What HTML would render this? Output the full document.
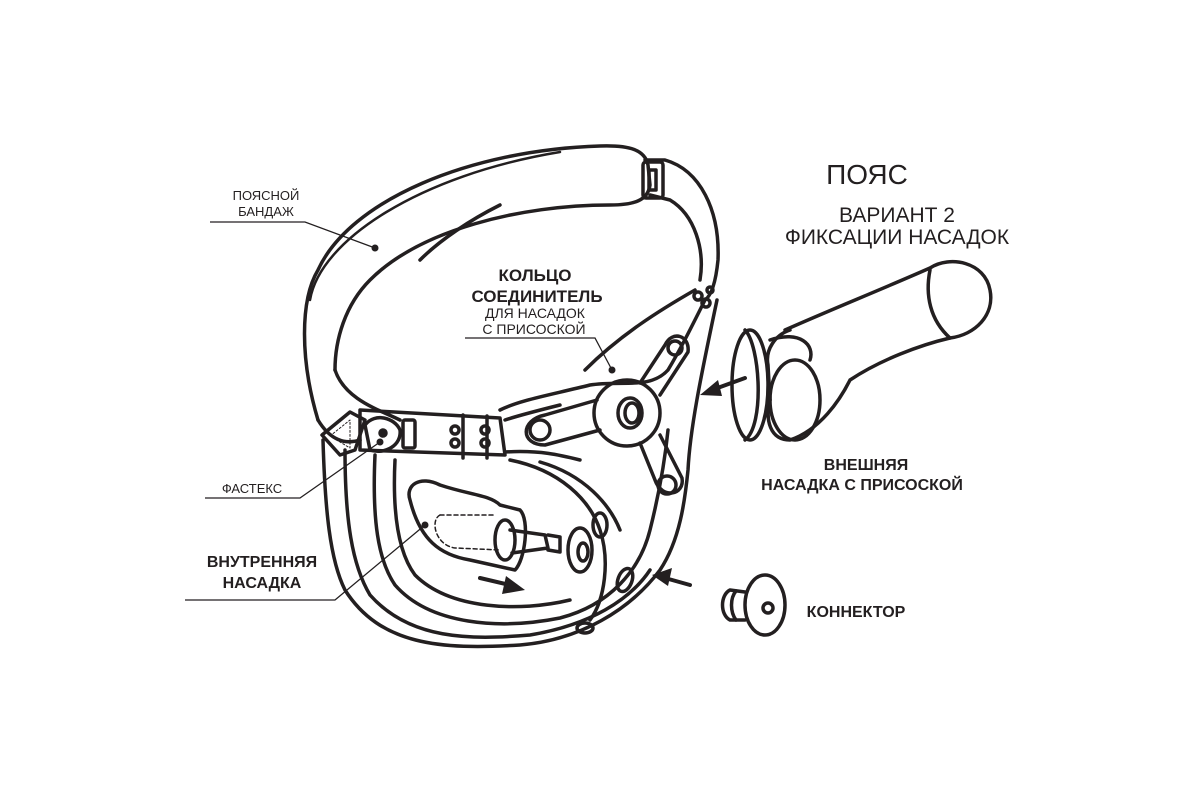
<!DOCTYPE html>
<html><head><meta charset="utf-8"><style>
html,body{margin:0;padding:0;background:#fff;width:1200px;height:800px;overflow:hidden}
svg{display:block}
text{font-family:"Liberation Sans",sans-serif;fill:#231f20}
.b{font-weight:bold}
</style></head><body>
<svg width="1200" height="800" viewBox="0 0 1200 800" xmlns="http://www.w3.org/2000/svg">
<g fill="none" stroke="#231f20" stroke-width="3.5" stroke-linecap="round" stroke-linejoin="round">
<!-- waist band -->
<path d="M318,420 C300,360 300,300 318,270 C350,200 470,150 600,146 C630,145 645,150 648,165 L650,185 C648,200 635,205 610,205 C520,205 420,230 370,280 C345,305 335,340 335,370"/>
<path d="M310,300 C320,240 420,175 560,152" stroke-width="2.5"/>
<path d="M335,370 C345,400 380,410 400,420"/>
<path d="M318,420 C330,440 345,445 360,440"/>
<path d="M500,205 C470,220 440,240 420,260"/>
<!-- right strap -->
<path d="M645,160 L665,160 C700,170 720,210 718,260 C716,280 712,295 705,300"/>
<path d="M650,195 L670,200 C695,215 705,250 700,280"/>
<rect x="643" y="162" width="20" height="36" rx="3"/>
<rect x="649" y="170" width="7" height="20"/>
<!-- strap down to ring -->
<path d="M705,300 C690,330 680,350 668,370 C650,390 620,380 590,385 C550,395 520,400 500,410"/>
<path d="M695,290 C660,310 620,335 585,370"/>
<circle cx="698" cy="296" r="4"/><circle cx="706" cy="303" r="4"/><circle cx="710" cy="290" r="3"/>
<!-- front waist strap -->
<path d="M360,410 L500,418 L505,455 L360,450 Z"/>
<path d="M505,420 C520,415 540,410 560,405"/>
<path d="M505,452 C540,450 560,455 580,460"/>
<rect x="403" y="420" width="12" height="28" rx="2"/>
<path d="M463,415 L463,458 M487,416 L487,458"/>
<circle cx="455" cy="430" r="4"/><circle cx="455" cy="443" r="4"/>
<circle cx="485" cy="430" r="4"/><circle cx="485" cy="443" r="4"/>
<!-- fastex -->
<path d="M322,435 L350,412 L365,420 L355,450 L340,455 Z"/>
<path d="M330,436 L350,420 L350,448 Z" stroke-width="1" stroke-dasharray="2,2"/>
<path d="M365,425 C375,412 395,418 400,430 C402,445 385,455 370,450 Z"/>
<circle cx="383" cy="433" r="3" fill="#231f20"/>
<!-- lower loop -->
<path d="M323,440 C325,510 330,560 345,590 C380,645 440,650 520,645 C580,640 630,610 660,570 C680,540 685,500 688,470 C690,430 700,380 717,300"/>
<path d="M345,450 C345,520 352,565 370,595 C410,640 470,640 530,635 C590,625 630,600 650,570"/>
<path d="M375,455 C372,520 378,560 395,585 C430,625 500,630 560,618 C610,605 640,570 650,530 C660,490 665,460 668,430"/>
<path d="M395,460 C392,520 400,555 415,575 C450,610 520,612 570,600"/>
<path d="M510,460 C560,470 590,500 600,530 C610,560 605,600 590,620"/>
<path d="M540,462 C585,475 610,505 620,530"/>
<ellipse cx="600" cy="525" rx="7" ry="12"/>
<ellipse cx="625" cy="580" rx="7" ry="12" transform="rotate(20 625 580)"/>
<ellipse cx="585" cy="628" rx="8" ry="5"/>
<!-- ring -->
<circle cx="627" cy="413" r="33"/>
<ellipse cx="630" cy="413" rx="12" ry="15"/>
<ellipse cx="632" cy="413" rx="7" ry="10"/>
<path d="M597,400 L545,415 C520,420 520,445 545,445 L600,430"/>
<circle cx="540" cy="430" r="10"/>
<path d="M640,383 L665,345 C672,330 690,335 688,352 L660,395"/>
<circle cx="675" cy="348" r="7"/>
<path d="M640,443 L655,480 C662,500 685,495 682,478 L660,435"/>
<circle cx="667" cy="485" r="9"/>
<!-- inner plug -->
<path d="M410,500 C405,485 420,475 440,485 C470,495 490,495 500,505 L520,510 C530,520 525,560 515,570 L470,560 C440,555 420,540 410,500 Z"/>
<path d="M440,515 C430,520 435,545 455,548 L500,550" stroke-width="1.5" stroke-dasharray="4,3"/>
<path d="M440,515 L495,515" stroke-width="1.5" stroke-dasharray="4,3"/>
<ellipse cx="505" cy="540" rx="10" ry="20"/>
<path d="M510,530 L545,535 L548,548 L512,553"/>
<path d="M548,535 L560,537 L560,552 L548,550"/>
<ellipse cx="580" cy="550" rx="12" ry="22"/>
<ellipse cx="583" cy="552" rx="5" ry="9"/>
<!-- external dildo -->
<path d="M785,330 C830,310 880,290 930,268 C950,255 985,262 990,290 C995,315 975,335 950,338 C920,345 880,360 850,380 C840,400 820,430 790,440 C770,440 765,420 770,400"/>
<path d="M790,330 C775,335 765,350 768,365 L770,400"/>
<path d="M930,270 C925,295 930,320 950,338"/>
<path d="M770,340 C800,330 815,345 810,360"/>
<ellipse cx="750" cy="385" rx="18" ry="55"/>
<path d="M745,330 C760,345 765,425 745,440"/>
<ellipse cx="795" cy="400" rx="25" ry="40"/>
<!-- connector -->
<ellipse cx="765" cy="605" rx="20" ry="30"/>
<circle cx="768" cy="608" r="5"/>
<path d="M745,592 L730,590 C720,595 720,615 730,620 L745,620"/>
<path d="M736,591 C730,598 730,612 736,620"/>
<!-- arrows -->
<path d="M745,378 L712,390" stroke-width="4"/>
<path d="M690,585 L665,578" stroke-width="4"/>
<path d="M480,578 L510,585" stroke-width="4"/>
</g>
<g fill="#231f20">
<polygon points="700,395 718,380 722,396"/>
<polygon points="652,575 672,568 668,586"/>
<polygon points="525,590 506,576 502,594"/>
</g>
<!-- leaders -->
<g fill="none" stroke="#231f20" stroke-width="1.3">
<path d="M210,222 L305,222 L375,248"/>
<path d="M465,338 L595,338 L612,370"/>
<path d="M205,498 L300,498 L380,442"/>
<path d="M185,600 L335,600 L425,525"/>
</g>
<g fill="#231f20">
<circle cx="375" cy="248" r="3.5"/><circle cx="612" cy="370" r="3.5"/>
<circle cx="380" cy="442" r="3.5"/><circle cx="425" cy="525" r="3.5"/>
</g>
<text x="867" y="184" font-size="28" text-anchor="middle">ПОЯС</text>
<text x="897" y="222" font-size="21" text-anchor="middle">ВАРИАНТ 2</text>
<text x="897" y="244" font-size="21" text-anchor="middle">ФИКСАЦИИ НАСАДОК</text>
<text x="266" y="200" font-size="13" text-anchor="middle">ПОЯСНОЙ</text>
<text x="266" y="216" font-size="13" text-anchor="middle">БАНДАЖ</text>
<text x="535" y="281" font-size="17" class="b" text-anchor="middle">КОЛЬЦО</text>
<text x="537" y="302" font-size="17" class="b" text-anchor="middle">СОЕДИНИТЕЛЬ</text>
<text x="535" y="318" font-size="14" text-anchor="middle">ДЛЯ НАСАДОК</text>
<text x="534" y="334" font-size="14" text-anchor="middle">С ПРИСОСКОЙ</text>
<text x="252" y="493" font-size="13" text-anchor="middle">ФАСТЕКС</text>
<text x="262" y="567" font-size="16" class="b" text-anchor="middle">ВНУТРЕННЯЯ</text>
<text x="262" y="588" font-size="16" class="b" text-anchor="middle">НАСАДКА</text>
<text x="866" y="470" font-size="16" class="b" text-anchor="middle">ВНЕШНЯЯ</text>
<text x="862" y="490" font-size="16" class="b" text-anchor="middle">НАСАДКА С ПРИСОСКОЙ</text>
<text x="856" y="617" font-size="16" class="b" text-anchor="middle">КОННЕКТОР</text>
</svg>
</body></html>
